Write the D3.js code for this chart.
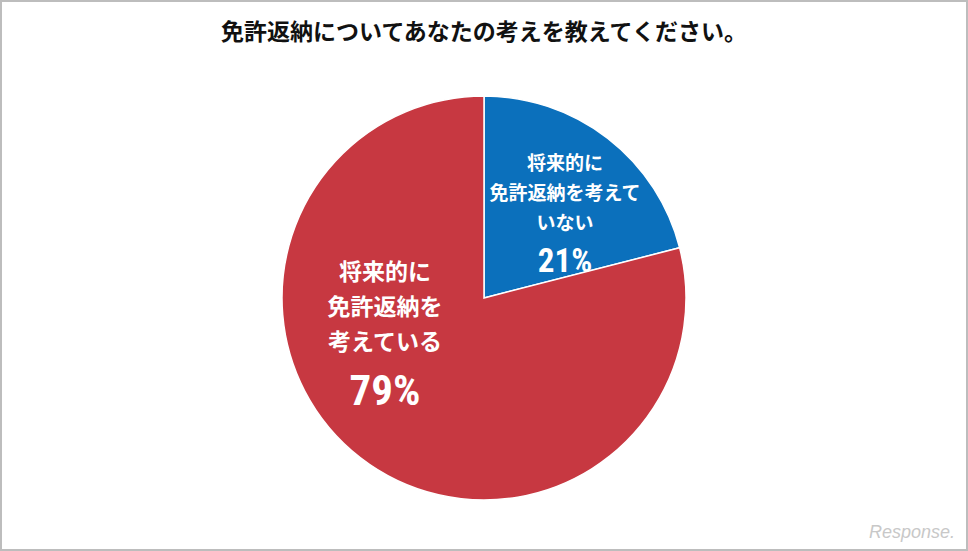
<!DOCTYPE html>
<html><head><meta charset="utf-8">
<script src="https://cdn.jsdelivr.net/npm/d3@7"></script>
<style>
body{margin:0;background:#fff;font-family:"Noto Sans CJK JP","Noto Sans",sans-serif;}
</style></head>
<body>
<svg id="chart" width="968" height="551"></svg>
<script>
const categories = ['将来的に免許返納を考えていない', '将来的に免許返納を考えている'];
const values = [21, 79];
const colors = ['#0B70BC', '#C73841'];
const labelLines = [['将来的に', '免許返納を考えて', 'いない'], ['将来的に', '免許返納を', '考えている']];

const W = 968, H = 551, cx = 484, cy = 298, R = 202;
const svg = d3.select('#chart');

svg.append('rect').attr('x', 1).attr('y', 1).attr('width', W - 2).attr('height', H - 2)
  .attr('fill', '#fff').attr('stroke', '#bdbdbd').attr('stroke-width', 2);

svg.append('text').attr('x', cx).attr('y', 40).attr('text-anchor', 'middle')
  .attr('font-size', 23).attr('font-weight', 'bold').attr('fill', '#111')
  .text('免許返納についてあなたの考えを教えてください。');

const pie = d3.pie().sort(null)(values);
const arc = d3.arc().innerRadius(0).outerRadius(R);
const g = svg.append('g').attr('transform', `translate(${cx},${cy})`);

g.selectAll('path').data(pie).join('path')
  .attr('d', arc).attr('fill', (d, i) => colors[i])
  .attr('stroke', '#fff').attr('stroke-width', 1.5);

// label placement
const labelPos = [
  { x: 565 - cx, y: 163 - cy, step: 30, pctGap: 37, pctSize: 33, size: 19 },
  { x: 385 - cx, y: 272 - cy, step: 35, pctGap: 48, pctSize: 43, size: 23 }
];
labelLines.forEach((lines, i) => {
  const p = labelPos[i];
  const t = g.append('g').attr('fill', '#fff').attr('font-weight', 'bold').attr('text-anchor', 'middle');
  lines.forEach((s, j) => {
    t.append('text').attr('x', p.x).attr('y', p.y + j * p.step + p.size * 0.35)
      .attr('font-size', p.size).text(s);
  });
  t.append('text').attr('x', p.x)
    .attr('y', p.y + (lines.length - 1) * p.step + p.pctGap + p.pctSize * 0.35)
    .attr('font-size', p.pctSize).attr('font-family', '"Liberation Sans Narrow","Roboto Condensed","DejaVu Sans Condensed",sans-serif')
    .text(values[i] + '%');
});

svg.append('text').attr('x', 955).attr('y', 538).attr('text-anchor', 'end')
  .attr('font-size', 18).attr('font-style', 'italic').attr('fill', '#c8c8c8')
  .attr('font-family', 'Liberation Sans, sans-serif').text('Response.');
</script>
</body></html>
